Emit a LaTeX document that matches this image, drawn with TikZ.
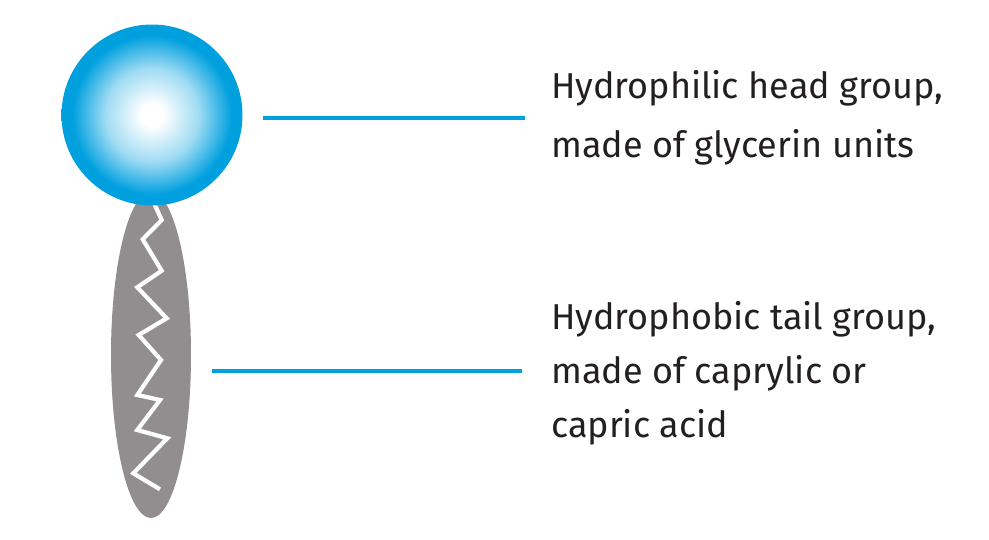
\documentclass[tikz,border=0pt]{standalone}
\usepackage{fontspec}
\setmainfont{Fira Sans}
\usetikzlibrary{shapes.geometric}
\definecolor{headblue}{RGB}{0,160,223}
\definecolor{tailgray}{RGB}{146,142,143}
\definecolor{labelgray}{RGB}{35,31,32}
\pgfdeclareradialshading{headglow}{\pgfpoint{0bp}{0bp}}{color(0bp)=(white); color(3bp)=(white); color(13bp)=(headblue!38!white); color(22bp)=(headblue); color(50bp)=(headblue)}
\begin{document}
\begin{tikzpicture}[x=1pt, y=-1pt,
  headball/.style={circle, minimum size=181pt, inner sep=0, shade, shading=headglow},
  tailbody/.style={ellipse, minimum width=80pt, minimum height=326pt, inner sep=0, fill=tailgray},
  chain/.style={draw=white, line width=4.2pt, line join=miter},
  leader/.style={draw=headblue, line width=4pt},
  labeltext/.style={text=labelgray, align=left, inner sep=0, anchor=base west}]
\useasboundingbox (0,0) rectangle (989,539);
% molecule
\node[tailbody] (tail) at (151,355) {};
\draw[chain] (148,190) -- (161.7,220) -- (142.7,239.3) -- (161.7,270.7) -- (137.3,287.3) -- (166.7,318.3) -- (138.7,335) -- (161,360) -- (137.3,395) -- (160,400) -- (137.3,430) -- (167.3,438.3) -- (133.3,473.3) -- (160,489.3);
\node[headball] (head) at (152,115) {};
% labels (anchored at the last line's baseline)
\node[labeltext, font=\fontsize{36}{59}\selectfont] (headlabel) at (551,157) {Hydrophilic head group,\\made of glycerin units};
\node[labeltext, font=\fontsize{36}{54}\selectfont] (taillabel) at (551,437) {Hydrophobic tail group,\\made of caprylic or\\capric acid};
\coordinate (headpin) at (263,118);
\coordinate (tailpin) at (212,371);
\draw[leader] (headpin) -- ([xshift=-26pt]headpin -| headlabel.west);
\draw[leader] (tailpin) -- ([xshift=-29pt]tailpin -| taillabel.west);
\end{tikzpicture}
\end{document}
